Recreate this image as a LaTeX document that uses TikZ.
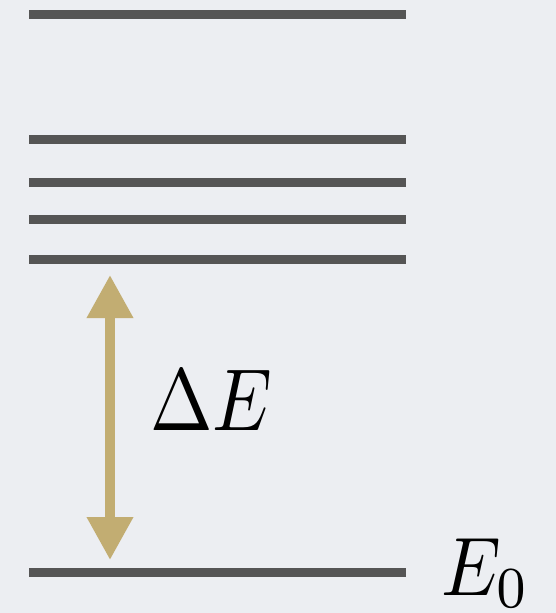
\documentclass[tikz,border=0pt]{standalone}
\usetikzlibrary{arrows.meta,positioning}
\definecolor{bgpanel}{RGB}{236,238,242}
\definecolor{levelgray}{RGB}{85,85,85}
\definecolor{gapgold}{RGB}{194,173,114}

\begin{document}
\begin{tikzpicture}[
  x=1pt,y=-1pt,
  level/.style={draw=levelgray,line width=9pt},
  gaparrow/.style={{Triangle[length=43pt,width=44pt]}-{Triangle[length=43pt,width=44pt]},draw=gapgold,line width=10pt},
  biglabel/.style={inner sep=0pt}
]
\fill[bgpanel] (0,0) rectangle (556,613);
\useasboundingbox (0,0) rectangle (556,613);
% energy levels
\foreach \y [count=\i] in {14,139,182,219,259,572} {
  \coordinate (l\i w) at (29,\y);
  \coordinate (l\i e) at (406,\y);
  \draw[level] (l\i w) -- (l\i e);
}
% gap between ground state and first excited level
\coordinate (gaptop) at (110,275);
\coordinate (gapbot) at (110,560);
\draw[gaparrow] (gapbot) -- (gaptop);
\node[biglabel,anchor=west] (dE) at (150,400) {\scalebox{7.5}[8.8]{$\Delta E$}};
\node[biglabel,anchor=base west] (E0) at (441,595) {\scalebox{7.5}[8.3]{$E_0$}};
\end{tikzpicture}
\end{document}
